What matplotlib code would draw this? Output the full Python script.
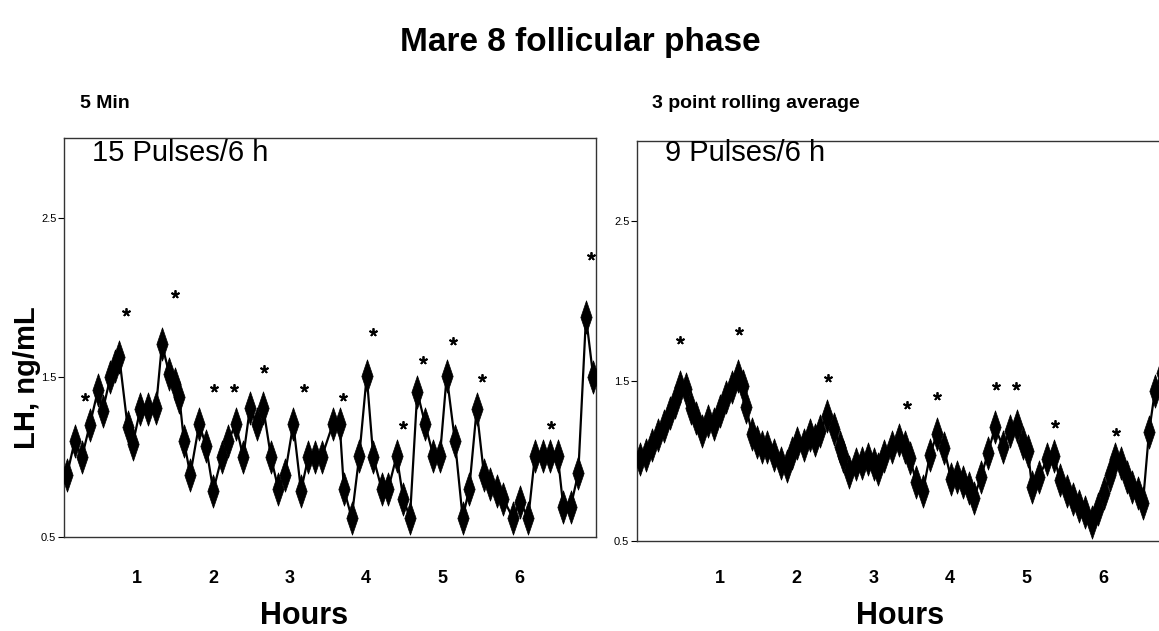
import matplotlib
matplotlib.use("Agg")
import matplotlib.pyplot as plt
from matplotlib.path import Path

plt.rcParams['font.family'] = ['Liberation Sans', 'DejaVu Sans']

# ---------------- data (hours, LH ng/mL) ----------------
left_hours = [0.084, 0.185, 0.280, 0.381, 0.490, 0.551, 0.651, 0.716, 0.768, 0.878,
              0.944, 1.043, 1.144, 1.249, 1.327, 1.423, 1.493, 1.554, 1.615, 1.698,
              1.815, 1.903, 1.999, 2.109, 2.195, 2.292, 2.391, 2.479, 2.565, 2.653,
              2.754, 2.850, 2.937, 3.046, 3.147, 3.242, 3.330, 3.418, 3.565, 3.653,
              3.709, 3.810, 3.910, 4.007, 4.093, 4.203, 4.289, 4.399, 4.486, 4.573,
              4.669, 4.770, 4.878, 4.966, 5.054, 5.162, 5.263, 5.349, 5.446, 5.542,
              5.620, 5.708, 5.795, 5.918, 6.013, 6.122, 6.209, 6.310, 6.406, 6.507,
              6.580, 6.677, 6.776, 6.877, 6.973]
left_lh = [0.89, 1.10, 1.00, 1.20, 1.42, 1.29, 1.50, 1.57, 1.63, 1.19,
           1.08, 1.30, 1.30, 1.31, 1.71, 1.52, 1.46, 1.38, 1.10, 0.89,
           1.21, 1.07, 0.79, 1.00, 1.10, 1.21, 1.00, 1.31, 1.21, 1.31,
           1.00, 0.80, 0.89, 1.21, 0.79, 1.00, 1.00, 1.00, 1.21, 1.21,
           0.80, 0.62, 1.01, 1.51, 1.00, 0.80, 0.80, 1.01, 0.74, 0.62,
           1.41, 1.21, 1.01, 1.01, 1.51, 1.10, 0.62, 0.80, 1.30, 0.89,
           0.83, 0.79, 0.74, 0.62, 0.72, 0.62, 1.01, 1.01, 1.01, 1.01,
           0.69, 0.69, 0.90, 1.88, 1.50]
left_star_hours = [0.319, 0.852, 1.497, 2.008, 2.270, 2.662, 3.186, 3.700,
                   4.085, 4.478, 4.740, 5.132, 5.516, 6.415, 6.938]
left_star_lh = [1.375, 1.907, 2.025, 1.435, 1.435, 1.551, 1.435, 1.375,
                1.787, 1.203, 1.612, 1.730, 1.494, 1.203, 2.258]

right_hours = [-0.044, 0.034, 0.112, 0.191, 0.269, 0.347, 0.413, 0.478, 0.556, 0.621,
               0.687, 0.765, 0.843, 0.922, 1.000, 1.078, 1.157, 1.235, 1.300, 1.339,
               1.418, 1.483, 1.548, 1.614, 1.705, 1.796, 1.875, 1.940, 2.005, 2.097,
               2.175, 2.240, 2.305, 2.397, 2.488, 2.567, 2.606, 2.684, 2.775, 2.854,
               2.932, 3.010, 3.063, 3.141, 3.245, 3.337, 3.415, 3.480, 3.559, 3.650,
               3.742, 3.833, 3.924, 4.016, 4.094, 4.172, 4.251, 4.316, 4.407, 4.499,
               4.590, 4.695, 4.786, 4.877, 4.956, 5.021, 5.073, 5.164, 5.269, 5.360,
               5.439, 5.530, 5.608, 5.687, 5.765, 5.856, 5.935, 6.013, 6.091, 6.157,
               6.235, 6.313, 6.379, 6.457, 6.522, 6.601, 6.679, 6.770]
right_lh = [1.01, 1.04, 1.10, 1.16, 1.22, 1.30, 1.37, 1.46, 1.45, 1.33,
            1.27, 1.19, 1.25, 1.23, 1.31, 1.40, 1.46, 1.53, 1.47, 1.34,
            1.17, 1.12, 1.09, 1.09, 1.04, 0.99, 0.97, 1.05, 1.11, 1.10,
            1.16, 1.13, 1.19, 1.28, 1.20, 1.09, 1.03, 0.93, 0.98, 0.99,
            1.01, 0.98, 0.95, 1.03, 1.09, 1.13, 1.09, 1.02, 0.87, 0.81,
            1.04, 1.17, 1.08, 0.89, 0.90, 0.87, 0.83, 0.77, 0.90, 1.05,
            1.21, 1.09, 1.19, 1.22, 1.11, 1.06, 0.84, 0.90, 1.01, 1.03,
            0.88, 0.81, 0.76, 0.72, 0.68, 0.62, 0.70, 0.80, 0.91, 1.01,
            0.99, 0.90, 0.84, 0.80, 0.74, 1.18, 1.44, 1.55]
right_star_hours = [0.478, 1.252, 2.414, 3.441, 3.837, 4.607, 4.868, 5.377, 6.170]
right_star_lh = [1.755, 1.811, 1.520, 1.349, 1.409, 1.468, 1.468, 1.233, 1.183]

hour_ticks = [1, 2, 3, 4, 5, 6]
lh_ticks = [0.5, 1.5, 2.5]
lh_tick_labels = ['0.5', '1.5', '2.5']

title = 'Mare 8 follicular phase'
panel_titles = ['5 Min', '3 point rolling average']
pulse_texts = ['15 Pulses/6 h', '9 Pulses/6 h']

# ---------------- figure ----------------
W, H = 1159, 631
fig = plt.figure(figsize=(W / 100, H / 100), dpi=100)
fig.patch.set_facecolor('white')

diamond = Path([(0, 1), (0.34, 0), (0, -1), (-0.34, 0), (0, 1)],
               [Path.MOVETO, Path.LINETO, Path.LINETO, Path.LINETO, Path.CLOSEPOLY])


def px_axes(x0, y0, x1, y1):
    return fig.add_axes([x0 / W, 1 - y1 / H, (x1 - x0) / W, (y1 - y0) / H])


axL = px_axes(64, 138, 596, 537)
axR = px_axes(637, 141, 1169, 541)

panels = [
    (axL, left_hours, left_lh, left_star_hours, left_star_lh, (0.045, 7.008), 24),
    (axR, right_hours, right_lh, right_star_hours, right_star_lh, (-0.084, 6.862), 21),
]

for ax, hx, lv, sx, sv, xl, xpad in panels:
    ax.plot(hx, lv, color='black', lw=1.6, zorder=2)
    ax.plot(hx, lv, linestyle='none', marker=diamond, markersize=24,
            markerfacecolor='black', markeredgecolor='black', markeredgewidth=0.5,
            zorder=3)
    ax.plot(sx, sv, linestyle='none', marker=(5, 2, 0), markersize=6,
            markeredgewidth=1.3, color='black', zorder=4)
    ax.set_xlim(*xl)
    ax.set_ylim(0.5, 3.0)
    ax.set_xticks(hour_ticks)
    ax.set_xticklabels([str(t) for t in hour_ticks], fontsize=13, fontweight='bold')
    ax.tick_params(axis='x', length=0, pad=xpad)
    ax.set_yticks(lh_ticks)
    ax.set_yticklabels(lh_tick_labels, fontsize=8)
    ax.tick_params(axis='y', length=4, width=0.8, direction='out', pad=1.5)
    for s in ax.spines.values():
        s.set_color('#333333')
        s.set_linewidth(1.0)

fig.text(580 / W, 1 - 42 / H, title, ha='center', va='center',
         fontsize=24, fontweight='bold')
fig.text(80 / W, 1 - 103 / H, panel_titles[0], ha='left', va='center',
         fontsize=14, fontweight='bold')
fig.text(652 / W, 1 - 103 / H, panel_titles[1], ha='left', va='center',
         fontsize=14, fontweight='bold')
fig.text(92 / W, 1 - 153 / H, pulse_texts[0], ha='left', va='center', fontsize=21)
fig.text(665 / W, 1 - 153 / H, pulse_texts[1], ha='left', va='center', fontsize=21)
fig.text(27 / W, 1 - 378 / H, 'LH, ng/mL', ha='center', va='center',
         rotation=90, fontsize=21, fontweight='bold')
fig.text(304 / W, 1 - 616 / H, 'Hours', ha='center', va='center',
         fontsize=22, fontweight='bold')
fig.text(900 / W, 1 - 616 / H, 'Hours', ha='center', va='center',
         fontsize=22, fontweight='bold')

fig.savefig('out.png', dpi=100, facecolor='white')
